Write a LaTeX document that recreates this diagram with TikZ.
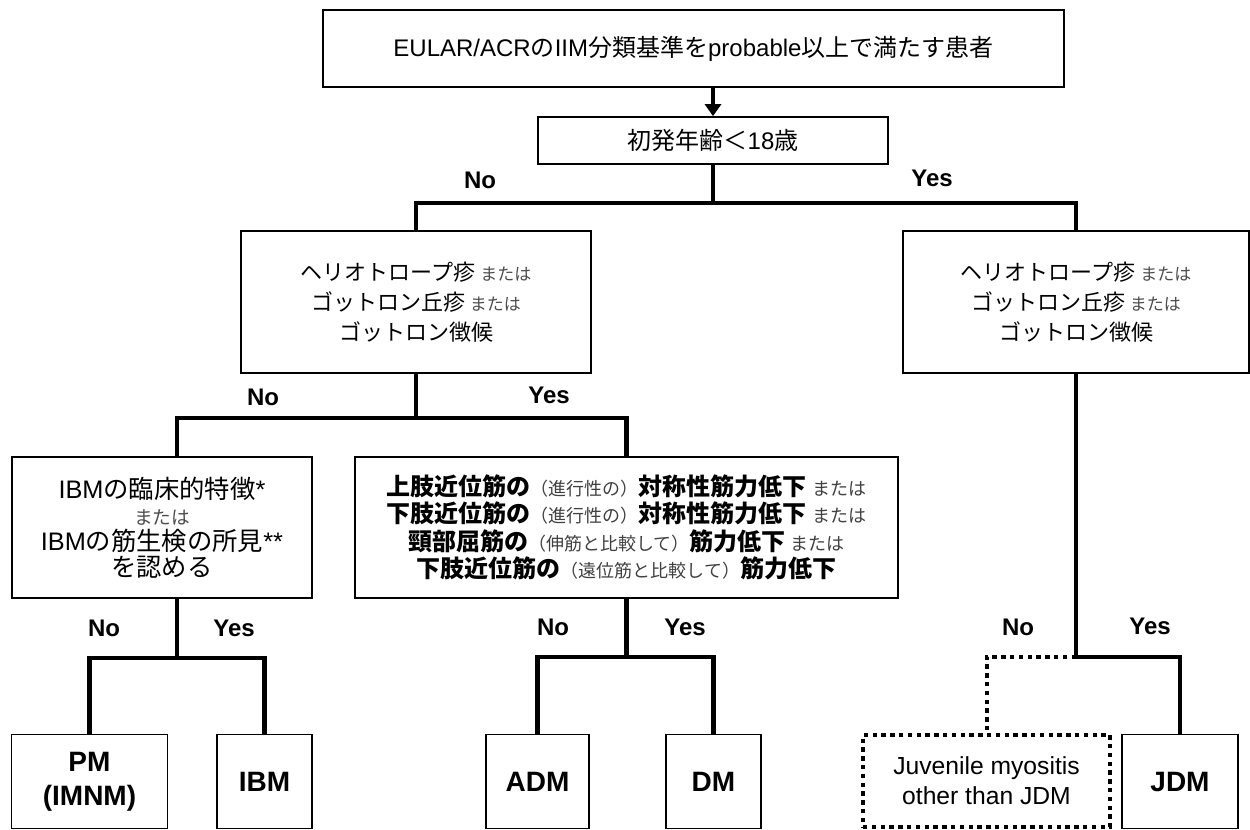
\documentclass[tikz,border=0pt]{standalone}
\usepackage{fontspec}
\setmainfont{Liberation Sans}
\newfontfamily\cjk{Noto Sans CJK JP}
\usetikzlibrary{arrows.meta}
\newcommand\smA[1]{{\fontsize{12.75}{12.75}\selectfont\color{black!70}#1}}
\newcommand\smC[1]{{\fontsize{14}{14}\selectfont\color{black!70}#1}}
\newcommand\smB[1]{{\fontsize{13.5}{13.5}\selectfont\color{black!75}#1}}
\begin{document}
\begin{tikzpicture}[x=0.75pt,y=-0.75pt,
  sz/.style args={#1x#2}{minimum width={0.75pt*#1}, minimum height={0.75pt*#2}},
  box/.style={draw, line width=1.3pt, inner sep=0pt, align=center, text=black},
  leaf/.style={draw, line width=1.2pt, inner sep=0pt, align=center, font=\bfseries\fontsize{21}{25.5}\selectfont},
  dotbox/.style={draw, line width=2.7pt, dash pattern=on 3.3pt off 3.3pt, inner sep=0pt, align=center, font=\fontsize{18.5}{22.5}\selectfont},
  conn/.style={line width=3.6pt},
  dotconn/.style={line width=3pt, dash pattern=on 3.3pt off 3.3pt},
  yn/.style={font=\bfseries\fontsize{18}{18}\selectfont, inner sep=0pt}]
\useasboundingbox (0,0) rectangle (1250,829);

% boxes
\node[box, sz=741x77, font=\cjk\fontsize{18}{21}\selectfont] (top) at (693.5,48.5)
  {{\rmfamily EULAR/ACR}の{\rmfamily IIM}分類基準を{\rmfamily probable}以上で満たす患者};
\node[box, sz=350x47, font=\cjk\fontsize{18}{21}\selectfont] (age) at (713,140.5)
  {初発年齢＜{\rmfamily 18}歳};
\node[box, sz=350x142, font=\cjk\fontsize{16.5}{22.5}\selectfont] (hL) at (416,302)
  {ヘリオトロープ疹 \smA{または}\\ゴットロン丘疹 \smA{または}\\ゴットロン徴候};
\node[box, sz=346x142, font=\cjk\fontsize{16.5}{22.5}\selectfont] (hR) at (1076,302)
  {ヘリオトロープ疹 \smA{または}\\ゴットロン丘疹 \smA{または}\\ゴットロン徴候};
\node[box, sz=300x141, font=\cjk\fontsize{19}{19.5}\selectfont] (ibmq) at (162,527.5)
  {{\rmfamily IBM}の臨床的特徴{\rmfamily *}\\\smC{または}\\{\rmfamily IBM}の筋生検の所見{\rmfamily **}\\を認める};
\node[box, sz=543x141, font=\cjk\fontsize{18}{20.5}\selectfont] (musc) at (626.5,527.5)
  {{\bfseries 上肢近位筋の}\smB{（進行性の）}{\bfseries 対称性筋力低下} \smB{または}\\
   {\bfseries 下肢近位筋の}\smB{（進行性の）}{\bfseries 対称性筋力低下} \smB{または}\\
   {\bfseries 頸部屈筋の}\smB{（伸筋と比較して）}{\bfseries 筋力低下} \smB{または}\\
   {\bfseries 下肢近位筋の}\smB{（遠位筋と比較して）}{\bfseries 筋力低下}};

% leaves
\node[leaf, sz=156x94] (pm) at (89.5,781.5) {PM\\(IMNM)};
\node[leaf, sz=95x94] (ibm) at (264.5,781.5) {IBM};
\node[leaf, sz=103x94] (adm) at (537.5,781.5) {ADM};
\node[leaf, sz=95x94] (dm) at (713.5,781.5) {DM};
\node[dotbox, sz=247x92] (juv) at (986.5,781) {Juvenile myositis\\other than JDM};
\node[leaf, sz=116x94] (jdm) at (1180,781.5) {JDM};

% labels
\node[yn] (l1) at (480,180) {No};
\node[yn] (l2) at (932,178) {Yes};
\node[yn] (l3) at (263,397) {No};
\node[yn] (l4) at (549,395) {Yes};
\node[yn] (l5) at (104,628) {No};
\node[yn] (l6) at (234,628) {Yes};
\node[yn] (l7) at (553,627) {No};
\node[yn] (l8) at (685,627) {Yes};
\node[yn] (l9) at (1018,627) {No};
\node[yn] (l10) at (1150,626) {Yes};

% connectors
\draw[conn, -{Triangle[width=12pt,length=9pt]}] (top.south -| age.north) -- (age.north);
\coordinate (j1) at (713,203);
\draw[conn] (age.south) -- (j1);
\draw[conn] (hL.north) |- (j1) -| (hR.north);

\coordinate (j3) at (416,418);
\draw[conn] (hL.south) -- (j3);
\draw[conn] ([xshift=11.25pt]ibmq.north) |- (j3) -| (musc.north);

\coordinate (j5) at (177,658);
\draw[conn] ([xshift=11.25pt]ibmq.south) -- (j5);
\draw[conn] (pm.north) |- (j5) -| (ibm.north);

\coordinate (j6) at (626.5,657);
\draw[conn] (musc.south) -- (j6);
\draw[conn] (adm.north) |- (j6) -| (dm.north);

\coordinate (j4) at (1076,657);
\draw[conn] (hR.south) -- (j4) -| (jdm.north);
\draw[dotconn] (j4) -| (juv.north);
\end{tikzpicture}
\end{document}
